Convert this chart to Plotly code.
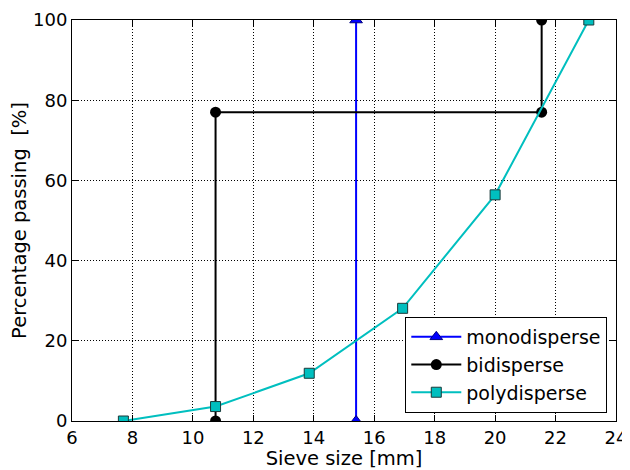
import plotly.graph_objects as go

mono_x = [15.4, 15.4]
mono_y = [0, 100]
bi_x = [10.75, 10.75, 21.54, 21.54]
bi_y = [0, 77, 77, 100]
poly_x = [7.7, 10.75, 13.85, 16.94, 20.0, 23.1]
poly_y = [0, 3.6, 11.9, 28.1, 56.4, 100]

fig = go.Figure()
fig.add_trace(go.Scatter(x=mono_x, y=mono_y, name="monodisperse", mode="lines+markers",
                         line=dict(color="#0000ff", width=2),
                         marker=dict(symbol="triangle-up", size=11, color="#0000ff",
                                     line=dict(color="#000080", width=1))))
fig.add_trace(go.Scatter(x=bi_x, y=bi_y, name="bidisperse", mode="lines+markers",
                         line=dict(color="black", width=2),
                         marker=dict(symbol="circle", size=11, color="black")))
fig.add_trace(go.Scatter(x=poly_x, y=poly_y, name="polydisperse", mode="lines+markers",
                         line=dict(color="#00bfbf", width=2),
                         marker=dict(symbol="square", size=10, color="#00bfbf",
                                     line=dict(color="#1a3a3a", width=1))))

axis_common = dict(showline=True, linecolor="black", linewidth=1, mirror="ticks",
                   ticks="inside", ticklen=6, tickcolor="black",
                   showgrid=True, gridcolor="black", griddash="1px,2px", gridwidth=1,
                   zeroline=False, tickfont=dict(size=18, color="black"))

fig.update_xaxes(range=[6, 24], dtick=2, tick0=6,
                 title=dict(text="Sieve size [mm]", font=dict(size=19.5, color="black"), standoff=2),
                 **axis_common)
fig.update_yaxes(range=[0, 100], dtick=20, tick0=0,
                 title=dict(text="Percentage passing\u00a0\u00a0[%]", font=dict(size=19.5, color="black"), standoff=8),
                 **axis_common)

fig.update_layout(
    width=622, height=462,
    margin=dict(l=64, r=14, t=12, b=49, autoexpand=False),
    paper_bgcolor="white", plot_bgcolor="white",
    font=dict(family="DejaVu Sans", color="black"),
    legend=dict(x=0.984, y=0.02, xanchor="right", yanchor="bottom",
                bgcolor="white", bordercolor="black", borderwidth=1,
                font=dict(size=19, color="black"), itemwidth=50,
                tracegroupgap=0),
)

fig.write_html("out.html")
